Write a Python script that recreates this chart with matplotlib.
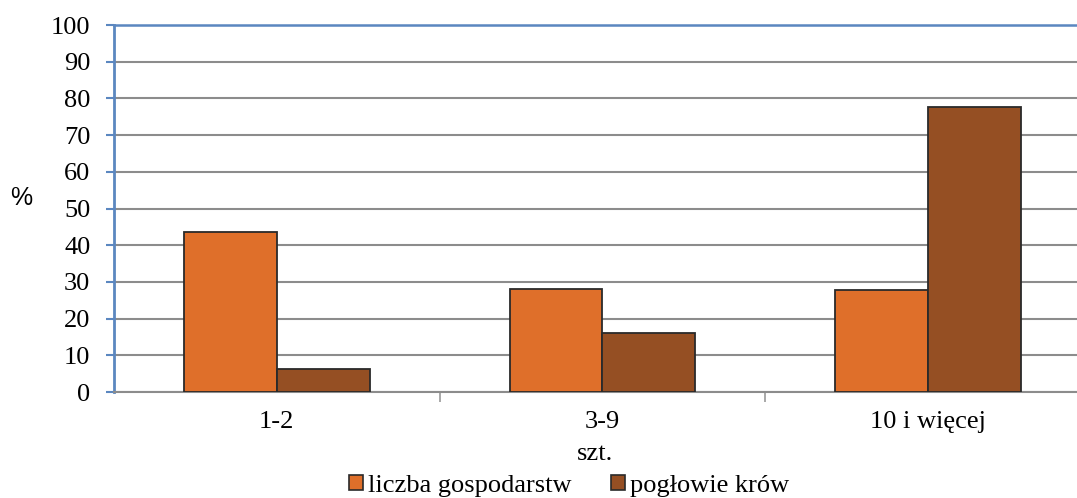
import matplotlib
matplotlib.use("Agg")
import matplotlib.pyplot as plt
import numpy as np
from matplotlib.patches import Patch

categories = ["1-2", "3-9", "10 i więcej"]
liczba_gospodarstw = [43.7, 28.2, 27.8]
poglowie_krow = [6.3, 16.1, 77.7]
series_names = ["liczba gospodarstw", "pogłowie krów"]
yticks = list(range(0, 101, 10))

orange = "#DF6F2A"
brown = "#954F23"
blue = "#5B87C0"
grid_c = "#8C8C8C"
FS = 19

fig = plt.figure(figsize=(10.77, 4.98), dpi=100)
ax = fig.add_axes([114/1077, 1-392/498, 1-114/1077, (392-25)/498])

x = np.arange(len(categories))
w = 0.285
ax.bar(x - w/2, liczba_gospodarstw, w, color=orange, edgecolor="#2a2a2a", linewidth=1.3, label=series_names[0], zorder=3)
ax.bar(x + w/2, poglowie_krow, w, color=brown, edgecolor="#2a2a2a", linewidth=1.3, label=series_names[1], zorder=3)

ax.set_ylim(0, 100)
ax.set_xlim(-0.5, 2.5 - 14/326)
ax.set_yticks(yticks)
ax.set_yticklabels([str(v) for v in yticks], fontfamily="Liberation Serif", fontsize=FS)
ax.yaxis.grid(True, color=grid_c, linewidth=1.5, zorder=0)
ax.set_axisbelow(True)

ax.set_xticks(x)
ax.set_xticklabels(categories, fontfamily="Liberation Serif", fontsize=FS)
ax.tick_params(axis="x", length=0, pad=14)
ax.set_xticks([0.5, 1.5], minor=True)
ax.tick_params(axis="x", which="minor", length=7, color="#999999", width=1.2)
ax.tick_params(axis="y", length=6, color=blue, width=1.5, pad=11)

ax.spines["right"].set_visible(False)
ax.spines["left"].set_color(blue)
ax.spines["left"].set_linewidth(2)
ax.spines["top"].set_color(blue)
ax.spines["top"].set_linewidth(1.8)
ax.spines["bottom"].set_color(grid_c)
ax.spines["bottom"].set_linewidth(1.5)

ax.set_xlabel("szt.", fontfamily="Liberation Serif", fontsize=FS, labelpad=7)
fig.text(21/1077, 1-198/498, "%", fontfamily="Liberation Sans", fontsize=18, ha="center", va="center")

handles = [Patch(facecolor=orange, edgecolor="#2a2a2a", linewidth=1.2),
           Patch(facecolor=brown, edgecolor="#2a2a2a", linewidth=1.2)]
fig.legend(handles, series_names, loc="center", bbox_to_anchor=(569/1077, 1-486/498), ncol=2,
           frameon=False, prop={"family": "Liberation Serif", "size": FS},
           handlelength=0.53, handleheight=0.53, handletextpad=0.2, columnspacing=1.5,
           borderaxespad=0, borderpad=0)

fig.savefig("out.png", dpi=100)
